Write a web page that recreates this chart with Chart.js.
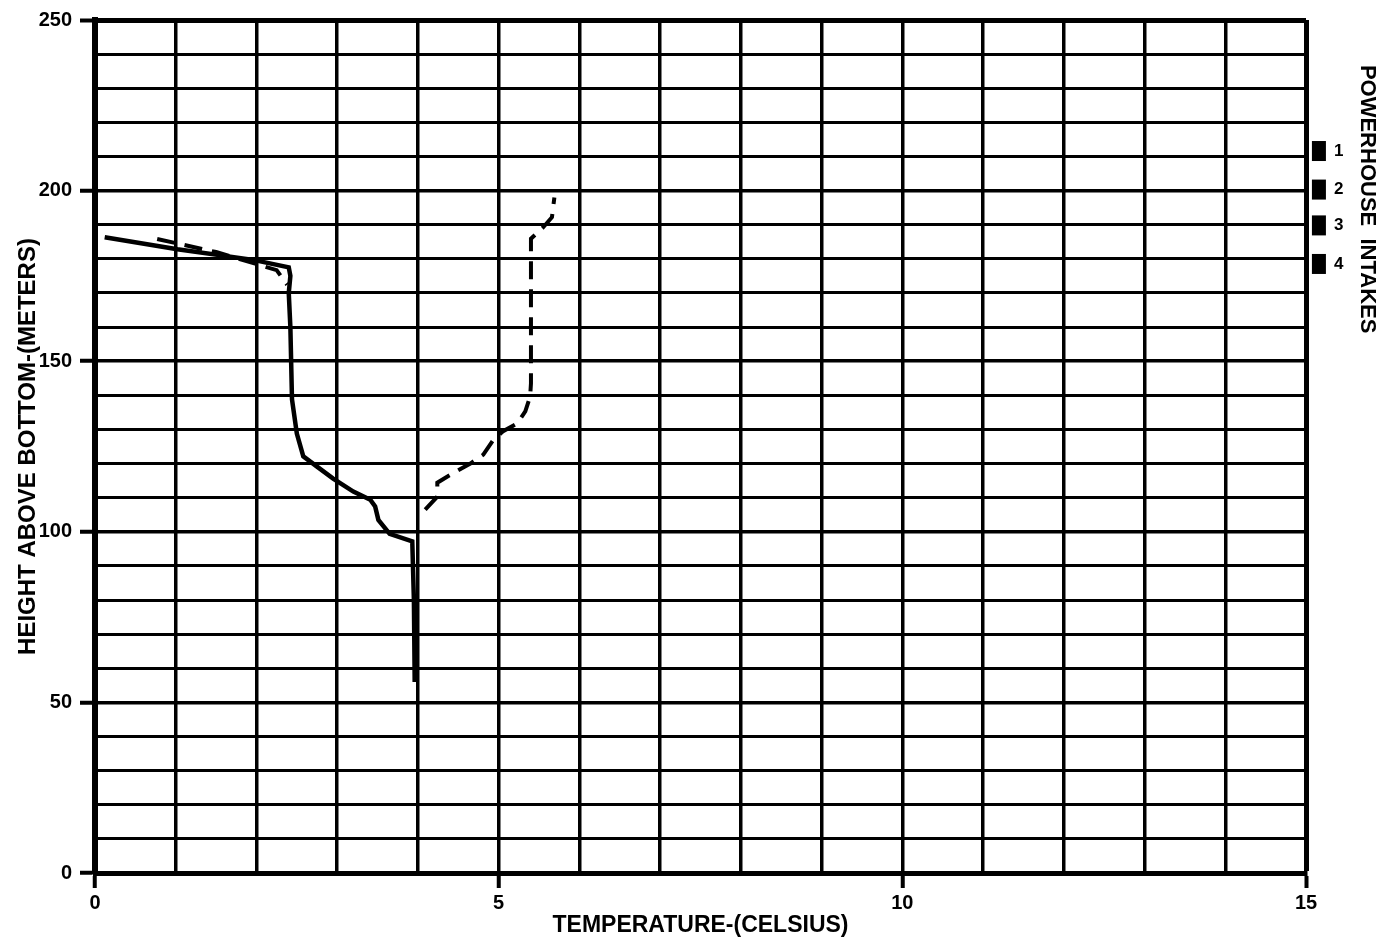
<!DOCTYPE html>
<html>
<head>
<meta charset="utf-8">
<title>Temperature profile</title>
<script src="https://cdn.jsdelivr.net/npm/chart.js@4/dist/chart.umd.min.js"></script>
<style>
  html, body { margin: 0; padding: 0; background: #ffffff; }
  canvas { display: block; }
</style>
</head>
<body>
<canvas id="chart" width="1384" height="939"></canvas>
<script>
// Profile 1 (solid): temperature (C) vs height above bottom (m)
const solidTemp   = [0.12, 1.02, 1.96, 2.40, 2.42, 2.40, 2.42, 2.44, 2.50, 2.58, 2.75, 2.95, 3.20, 3.41, 3.47, 3.51, 3.65, 3.93, 3.95, 3.96];
const solidHeight = [186.3, 182.8, 179.7, 177.5, 175.0, 170.0, 160.0, 138.8, 128.8, 122.1, 119.1, 115.6, 111.8, 109.4, 107.4, 103.5, 99.4, 97.2, 80.0, 56.0];

// Profile 2 (dashed); null marks the stretch hidden under the solid profile
const dashTemp   = [0.77, 1.50, 2.25, 2.38, 3.00, 4.09, 4.24, 4.24, 4.43, 4.65, 4.81, 4.93, 5.05, 5.23, 5.33, 5.39, 5.40, 5.40, 5.55, 5.66, 5.69];
const dashHeight = [185.8, 182.0, 176.7, 172.4, null, 106.5, 110.3, 114.4, 117.1, 120.0, 122.6, 126.8, 129.4, 131.8, 135.3, 139.7, 143.5, 185.9, 189.2, 192.2, 198.0];

// Powerhouse intake elevations (m), marked just outside the right edge
const intakeNames   = ['1', '2', '3', '4'];
const intakeHeights = [211.6, 200.3, 189.8, 178.5];
const intakeTemp    = 15.16;

// Axis ranges and labelled ticks
const xMin = 0, xMax = 15, xStep = 1, xLabelEvery = 5;
const yMin = 0, yMax = 250, yStep = 10, yLabelEvery = 50;

const FONT = "'Liberation Sans', Arial, sans-serif";
const INK = '#000000';

function toPoints(xs, ys) {
  return xs.map((x, i) => ({ x: x, y: ys[i] }));
}

// Intake blocks, their numbers and the side caption
const intakeMarks = {
  id: 'intakeMarks',
  afterDatasetsDraw(chart) {
    const xs = chart.scales.x;
    const ys = chart.scales.y;
    const ctx = chart.ctx;
    const cx = xs.getPixelForValue(intakeTemp);
    ctx.save();
    ctx.fillStyle = INK;
    ctx.font = 'bold 17px ' + FONT;
    ctx.textAlign = 'left';
    ctx.textBaseline = 'middle';
    intakeHeights.forEach((h, i) => {
      const cy = ys.getPixelForValue(h);
      ctx.fillRect(cx - 7, cy - 10, 14, 20);
      ctx.fillText(intakeNames[i], cx + 15, cy);
    });
    const area = chart.chartArea;
    const yTop = ys.getPixelForValue(237);
    const yBot = ys.getPixelForValue(158);
    ctx.translate(area.right + 61, (yTop + yBot) / 2);
    ctx.rotate(Math.PI / 2);
    ctx.textAlign = 'center';
    ctx.font = 'bold 22px ' + FONT;
    ctx.fillText('POWERHOUSE  INTAKES', 0, 0);
    ctx.restore();
  }
};

new Chart(document.getElementById('chart'), {
  type: 'scatter',
  data: {
    datasets: [
      {
        label: 'solid',
        data: toPoints(solidTemp, solidHeight),
        showLine: true,
        borderColor: INK,
        borderWidth: 4.5,
        pointRadius: 0,
        tension: 0,
        spanGaps: false
      },
      {
        label: 'dashed',
        data: toPoints(dashTemp, dashHeight),
        showLine: true,
        borderColor: INK,
        borderWidth: 4,
        borderDash: [18, 10],
        pointRadius: 0,
        tension: 0,
        spanGaps: false
      }
    ]
  },
  options: {
    responsive: false,
    animation: false,
    events: [],
    layout: { padding: { top: 17, right: 78, bottom: 0, left: 0 } },
    plugins: {
      legend: { display: false },
      tooltip: { enabled: false },
      title: { display: false }
    },
    scales: {
      x: {
        type: 'linear',
        min: xMin,
        max: xMax,
        afterFit(scale) { scale.height = 66; },
        border: { display: true, color: INK, width: 5 },
        grid: {
          color: INK,
          lineWidth: ctx => (ctx.tick && (ctx.tick.value === xMax) ? 5 : 3.5),
          drawTicks: true,
          tickLength: 15,
          tickWidth: 4,
          tickColor: ctx => (ctx.tick && ctx.tick.value % xLabelEvery === 0 ? INK : 'rgba(0,0,0,0)')
        },
        ticks: {
          stepSize: xStep,
          autoSkip: false,
          maxRotation: 0,
          padding: 3,
          color: INK,
          font: { family: FONT, size: 20, weight: 'bold' },
          callback: v => (v % xLabelEvery === 0 ? String(v) : '')
        },
        title: {
          display: true,
          text: 'TEMPERATURE-(CELSIUS)',
          color: INK,
          font: { family: FONT, size: 23, weight: 'bold' },
          padding: { top: 0, bottom: 0 }
        }
      },
      y: {
        type: 'linear',
        min: yMin,
        max: yMax,
        afterFit(scale) { scale.width = 95; },
        border: { display: true, color: INK, width: 6 },
        grid: {
          color: INK,
          lineWidth: ctx => {
            if (!ctx.tick) return 3;
            if (ctx.tick.value === yMax) return 5;
            return ctx.tick.value % yLabelEvery === 0 ? 3.5 : 3;
          },
          drawTicks: true,
          tickLength: 15,
          tickWidth: 4,
          tickColor: ctx => (ctx.tick && ctx.tick.value % yLabelEvery === 0 ? INK : 'rgba(0,0,0,0)')
        },
        ticks: {
          stepSize: yStep,
          autoSkip: false,
          padding: 8,
          color: INK,
          font: { family: FONT, size: 20, weight: 'bold' },
          callback: v => (v % yLabelEvery === 0 ? String(v) : '')
        },
        title: {
          display: true,
          text: 'HEIGHT ABOVE BOTTOM-(METERS)',
          color: INK,
          font: { family: FONT, size: 24, weight: 'bold' },
          padding: { top: 14, bottom: 0 }
        }
      }
    }
  },
  plugins: [intakeMarks]
});
</script>
</body>
</html>
